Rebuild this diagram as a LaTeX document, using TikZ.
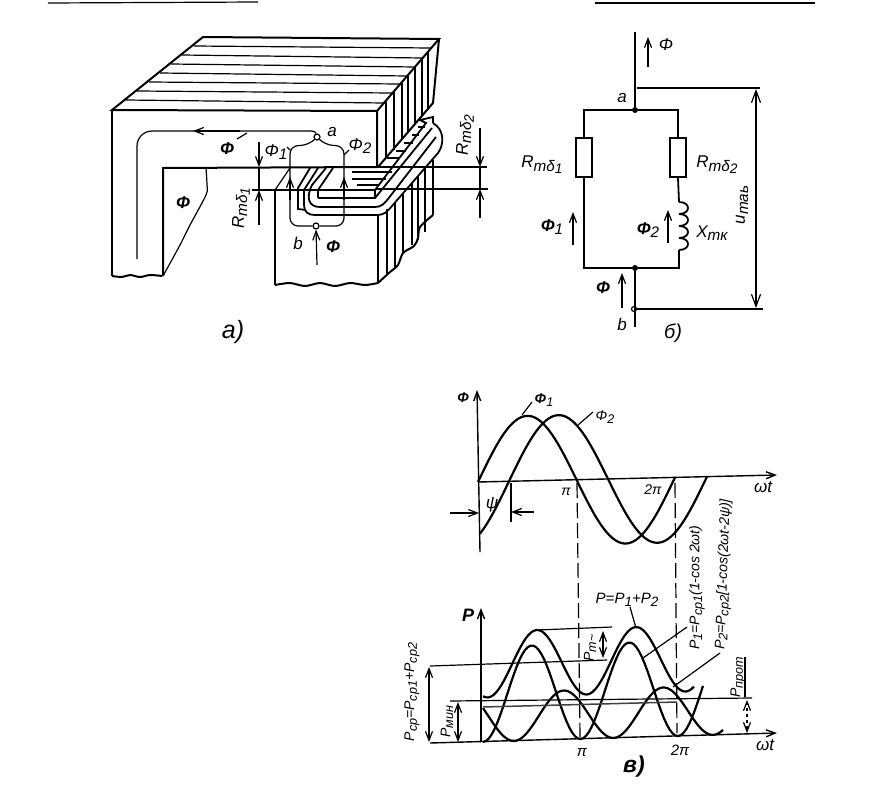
\documentclass[tikz,border=0pt]{standalone}
\usepackage{fontspec}
\setmainfont{Liberation Sans}
\usetikzlibrary{arrows.meta}
\newcommand{\Fl}{\textbf{Φ}}
\newcommand{\dn}[1]{\raisebox{-.35ex}{\scalebox{.9}{#1}}}
\tikzset{
    >={Straight Barb[length=9pt,width=7pt]},
    core/.style={line width=2pt, line join=miter},
    wire/.style={line width=1.8pt},
    thinline/.style={line width=1.2pt},
    curve/.style={line width=2.2pt},
    dimline/.style={line width=1.2pt, <->},
    flow/.style={line width=1.2pt, ->},
    lbl/.style={font=\fontsize{17}{19}\selectfont\itshape, inner sep=0pt},
    smalllbl/.style={font=\fontsize{14}{16}\selectfont\itshape, inner sep=0pt},
    tag/.style={font=\fontsize{25}{27}\selectfont\itshape, inner sep=0pt},
    longdash/.style={line width=1.2pt, dash pattern=on 15pt off 5pt},
    opendot/.style={circle, draw, fill=white, line width=1.2pt, inner sep=0pt, minimum size=6pt},
    blackdot/.style={circle, fill=black, inner sep=0pt, minimum size=6pt},
    resbox/.style={draw, line width=1.8pt, fill=white, minimum width=16pt, minimum height=39pt, inner sep=0pt}
}
\begin{document}
\begin{tikzpicture}[x=1pt, y=-1pt]
    \useasboundingbox (0,0) rectangle (877,803);

    % page rules
    \draw[line width=1.2pt] (48,3) -- (258,2);
    \draw[line width=1.2pt] (595,3) -- (815,3);

    % upper core
    \draw[core] (112,110) -- (203,37) -- (439,39) -- (377,111) -- cycle;
    \draw[core] (112,110) -- (112,276);
    \draw[core] plot[smooth] coordinates {(112,276) (122,277) (130,275) (140,277) (150,275) (162,276)};
    \draw[core] (163,276) -- (163,168) -- (377,167) -- (377,111);
    \draw[thinline] plot[smooth] coordinates {(206,168) (207,185) (206,195) (190,225) (180,245) (163,276)};
    \draw[core] (439,39) -- (433,103) -- (378,167);
    \foreach \ya/\xa/\yb/\xb in {46/194/48/431, 55/182/58/423, 64/171/67/415, 73/160/76/407, 82/149/84/400, 91/137/93/392, 100/126/103/384}
        \draw[thinline] (\xa,\ya) -- (\xb,\yb);
    \foreach \xa/\ya/\yb in {386/102/158, 394/92/150, 402/83/140, 408/76/133, 415/67/125, 422/59/117, 428/52/110}
        \draw[thinline] (\xa,\ya) -- (\xa,\yb);

    % lower core
    \draw[core] (275,190) -- (275,285);
    \draw[core] plot[smooth] coordinates {(275,285) (290,283) (305,286) (320,283) (335,286) (350,283) (365,285) (378,283)};
    \draw[core] (378,215) -- (378,283);
    \draw[core] plot[smooth] coordinates {(378,283) (390,272) (398,265) (403,253) (414,246) (418,238) (420,227) (433,215)};
    \draw[core] (433,160) -- (433,215);
    \draw[thinline] (275,190) -- (290,168);
    \foreach \xa/\ya/\yb in {387/209/275, 395/203/267, 403/193/253, 412/183/245, 418/176/240, 425/168/232}
        \draw[thinline] (\xa,\ya) -- (\xa,\yb);

    % winding
    \draw[wire] (252,190) -- (375,190);
    \draw[wire] (375,190) -- (375,198);
    \draw[wire] (375,190) -- (426,123) -- (420,120) -- (433,117) -- (433,123);
    \draw[wire] (318,198) -- (375,198) -- (432,128);
    \draw[wire] (333,168) -- (318,190) -- (318,198);
    \draw[wire] (326,168) -- (312,185) .. controls (306,197) and (308,207) .. (320,207) -- (375,207) .. controls (381,207) and (384,204) .. (388,199) -- (436,137);
    \draw[wire] (318,168) -- (304,190) -- (304,205) .. controls (304,212) and (308,215) .. (315,215) -- (377,215) .. controls (384,215) and (387,212) .. (392,206) -- (438,153) .. controls (444,145) and (445,130) .. (433,123);
    \draw[wire] (310,168) -- (298,188) -- (298,209) -- (306,210);
    \draw[thinline] (352,172) -- (392,172);
    \draw[thinline] (352,179) -- (386,179);
    \draw[thinline] (357,185) -- (378,185);
    \foreach \xa/\xb/\yc in {387/399/158, 396/406/151, 404/413/143, 412/419/135, 418/425/127}
        \draw[thinline] (\xa,\yc) -- (\xb,\yc);
    \draw[thinline] (377,167) -- (487,167);
    \draw[thinline] (375,189) -- (488,189);

    % flux paths in the core
    \node[opendot] (fluxa) at (317,137) {};
    \node[opendot] (fluxb) at (316,226) {};
    \coordinate (fluxin) at (317,265);
    \coordinate (fluxend) at (137,259);
    \draw[thinline, rounded corners=15pt] (fluxend) -- (137,131) -- (311,131);
    \draw[thinline] (311,131) .. controls (315,131) and (316,133) .. (fluxa);
    \draw[flow] (240,131) -- (193,131);
    \draw[thinline, rounded corners=8pt] (fluxa.south west) -- (309,145) -- (290,146) -- (290,226) -- (fluxb.west);
    \draw[thinline, rounded corners=8pt] (fluxa.south east) -- (325,145) -- (344,146) -- (344,226) -- (fluxb.east);
    \draw[flow] (290,200) -- (290,177);
    \draw[flow] (344,200) -- (344,177);
    \draw[flow] (fluxin) -- (fluxb.south);
    \draw[thinline] (237,139) -- (247,133);
    \draw[thinline] (344,155) -- (349,150);
    \draw[thinline] (290,150) -- (287,147);

    \node[lbl] (lblfluxa) at (227,149) {\Fl};
    \node[lbl] (lblcore) at (183,203) {\Fl};
    \node[lbl] (lbla) at (332,132) {a};
    \node[lbl] (lblb) at (298,243) {b};
    \node[lbl] (lblfluxb) at (333,247) {\Fl};
    \node[lbl] (lblone) at (276,152) {Φ\dn{1}};
    \node[lbl] (lbltwo) at (360,146) {Φ\dn{2}};
    \node[lbl, rotate=90] (lblrone) at (241,208) {R\dn{mδ\dn{1}}};
    \node[lbl, rotate=90] (lblrtwo) at (465,135) {R\dn{mδ\dn{2}}};

    \draw[flow] (259,142) -- (259,167);
    \draw[thinline] (259,167) -- (259,190);
    \draw[flow] (259,225) -- (259,190);
    \draw[flow] (480,128) -- (480,167);
    \draw[thinline] (480,167) -- (480,189);
    \draw[flow] (480,218) -- (480,189);

    \node[tag] (taga) at (233,332) {a)};

    % equivalent circuit
    \node[blackdot] (na) at (635,110) {};
    \node[blackdot] (nb) at (635,268) {};
    \node[opendot, minimum size=5pt] (nout) at (634,309) {};
    \node[resbox] (resone) at (584,157.5) {};
    \node[resbox] (restwo) at (678,157.5) {};
    \coordinate (wiretop) at (635,32);
    \coordinate (wirebot) at (635,327);
    \coordinate (indtop) at (679,202);
    \coordinate (indbot) at (679,250);
    \draw[wire] (wiretop) -- (na);
    \draw[wire] (nb) -- (wirebot);
    \draw[wire] (resone.north) -- (584,110) -- (na) -- (678,110) -- (restwo.north);
    \draw[wire] (resone.south) -- (584,268) -- (nb) -- (679,268) -- (indbot);
    \draw[wire] (restwo.south) -- (indtop);
    \foreach \k in {0,1,2,3}
        \draw[wire] (679,{202+12*\k}) .. controls (691,{202+12*\k}) and (691,{214+12*\k}) .. (679,{214+12*\k});
    \draw[thinline] (637,88) -- (760,88);
    \draw[thinline] (nout) -- (763,309);
    \draw[dimline, {Straight Barb[length=12pt,width=9pt]}-{Straight Barb[length=12pt,width=9pt]}] (756,89) -- (756,308);
    \draw[flow] (648,67) -- (648,37);
    \draw[flow] (573,245) -- (573,212);
    \draw[flow] (668,243) -- (668,210);
    \draw[flow] (622,308) -- (622,273);

    \node[lbl] (lblctop) at (666,45) {Φ};
    \node[lbl] (lblca) at (622,98) {a};
    \node[lbl] (lblcb) at (622,324) {b};
    \node[lbl] (lblcbot) at (603,288) {\Fl};
    \node[lbl] (lblcrone) at (542,165) {R\dn{mδ\dn{1}}};
    \node[lbl] (lblcrtwo) at (717,165) {R\dn{mδ\dn{2}}};
    \node[lbl] (lblcone) at (552,227) {\Fl\dn{1}};
    \node[lbl] (lblctwo) at (648,230) {\Fl\dn{2}};
    \node[lbl] (lblcx) at (712,233) {X\dn{mк}};
    \node[lbl, rotate=90] (lblcu) at (742,205) {u\dn{maь}};
    \node[lbl, font=\fontsize{20}{22}\selectfont\itshape] (tagb) at (673,333) {б)};

    % flux curves
    \draw[line width=1.4pt, ->] (480,552) -- (477,390);
    \draw[line width=1.4pt, ->] (478,482) -- (777,475);
    \draw[curve] plot[domain=478:675, samples=70] (\x,{482-0.0234*(\x-478)-65*sin(1.8274*(\x-478))});
    \draw[curve] plot[domain=480:707, samples=70] (\x,{482-0.0234*(\x-478)-65*sin(1.8182*(\x-509))});
    \draw[thinline] (511,483) -- (511,522);
    \draw[flow] (450,513) -- (479,513);
    \draw[flow] (534,512) -- (511,512);
    \draw[thinline] (522,415) -- (532,402);
    \draw[thinline] (578,425) -- (593,412);

    \node[smalllbl] (lblfy) at (463,398) {\Fl};
    \node[smalllbl] (lblfone) at (544,400) {\Fl\dn{1}};
    \node[smalllbl] (lblftwo) at (605,417) {Φ\dn{2}};
    \node[lbl] (lblpsi) at (492,505) {ψ};
    \node[smalllbl] (lblpia) at (566,492) {π};
    \node[smalllbl] (lbltwopia) at (653,490) {2π};
    \node[lbl] (lblwta) at (763,487) {ωt};

    % dashed links between the graphs
    \draw[longdash] (577,483) -- (580,737);
    \draw[longdash] (675,483) -- (677,733);

    % power curves
    \draw[line width=1.4pt, ->] (481,742) -- (481,608);
    \draw[line width=1.4pt, ->] (430,743) -- (777,733);
    \draw[curve] plot[domain=483:703, samples=80] (\x,{742-0.0304*(\x-481)-47.5*(1-cos(3.6923*(\x-483)))});
    \draw[curve] plot[domain=483:723, samples=80] (\x,{742-0.0304*(\x-481)-24.5*(1-cos(3.6181*(\x-514)))});
    \draw[curve] plot[domain=483:694, samples=80] (\x,{663-0.03*(\x-537)-33*cos(3.6364*(\x-537))});

    \draw[line width=1.2pt] (430,666) -- (607,660);
    \draw[thinline] (537,630) -- (612,627);
    \draw[line width=1.2pt] (450,701) -- (752,698);
    \draw[line width=1.5pt, black!75] (483,707) -- (677,702);
    \draw[dimline] (429,667) -- (429,742);
    \draw[dimline] (458,702) -- (458,742);
    \draw[dimline] (603,631) -- (603,658);
    \draw[thinline] (745,657) -- (745,697);
    \draw[dimline, dashed] (747,700) -- (747,733);
    \draw[thinline] (630,607) -- (636,628);
    \draw[thinline] (687,627) -- (643,658);
    \draw[thinline] (720,653) -- (673,687);

    \node[lbl, font=\fontsize{18}{20}\selectfont\bfseries\itshape] (lblp) at (468,615) {P};
    \node[lbl] (lblwtb) at (765,745) {ωt};
    \node[smalllbl, font=\fontsize{15}{17}\selectfont\itshape] (lblpib) at (582,753) {π};
    \node[smalllbl, font=\fontsize{15}{17}\selectfont\itshape] (lbltwopib) at (680,750) {2π};
    \node[tag, font=\fontsize{23}{25}\selectfont\bfseries\itshape] (tagc) at (634,767) {в)};
    \node[lbl, font=\fontsize{15}{17}\selectfont\itshape] (lblsum) at (627,600) {P=P\dn{1}+P\dn{2}};
    \node[smalllbl, rotate=90, anchor=west] (lblpone) at (697,650) {P\dn{1}=P\dn{ср1}(1-cos 2ωt)};
    \node[smalllbl, rotate=88, anchor=west] (lblptwo) at (722,650) {P\dn{2}=P\dn{ср2}[1-cos(2ωt-2ψ)]};
    \node[smalllbl, rotate=90] (lblpmean) at (412,692) {P\dn{ср}=P\dn{ср1}+P\dn{ср2}};
    \node[smalllbl, rotate=90] (lblpmin) at (447,722) {P\dn{мин}};
    \node[smalllbl, rotate=90] (lblpm) at (590,648) {P\dn{m\textasciitilde}};
    \node[smalllbl, rotate=90] (lblppr) at (738,677) {P\dn{прот}};
\end{tikzpicture}
\end{document}
